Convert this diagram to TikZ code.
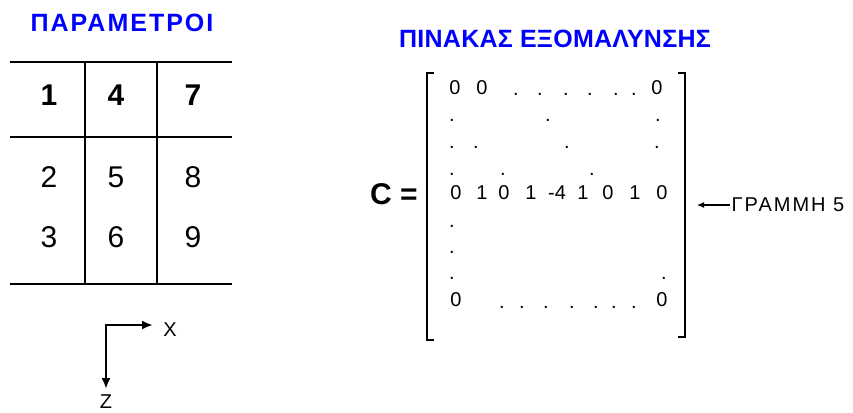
\documentclass[tikz,border=0pt]{standalone}
\usepackage{fontspec}
\setmainfont{Liberation Sans}
\usetikzlibrary{arrows.meta}
\definecolor{ttlBlue}{HTML}{0000FF}

\begin{document}
\begin{tikzpicture}[x=1pt,y=-1pt,
  ttl/.style={text=ttlBlue,inner sep=0pt,font=\fontsize{25}{28}\selectfont\bfseries},
  cell/.style={inner sep=0pt,font=\fontsize{30}{34}\selectfont},
  cellb/.style={inner sep=0pt,font=\fontsize{30}{34}\selectfont\bfseries},
  entry/.style={inner sep=0pt,font=\fontsize{20}{23}\selectfont},
  axlbl/.style={inner sep=0pt,font=\fontsize{20}{24}\selectfont},
  grid/.style={line width=2pt},
  brk/.style={line width=2.6pt},
  axis/.style={line width=2.6pt,line join=miter,{Latex[length=11pt,width=9pt]}-{Latex[length=11pt,width=9pt]}}]
\useasboundingbox (0,0) rectangle (853,412);
\node[ttl] (partitle) at (122,23) {\addfontfeature{LetterSpace=8}ΠΑΡΑΜΕΤΡΟΙ};
\draw[grid] (10,62) -- (232,62) (10,137) -- (232,137) (10,284) -- (232,284);
\draw[grid] (85,62) -- (85,284) (157,62) -- (157,284);
\foreach \n/\x in {1/49,4/116,7/193}
  \node[cellb] (c\n) at (\x,95) {\n};
\foreach \n/\x/\y in {2/49/177,5/116/177,8/193/177,3/49/237,6/116/237,9/193/237}
  \node[cell] (c\n) at (\x,\y) {\n};
\coordinate (orig) at (106,325);
\coordinate (xend) at (153,325);
\coordinate (zend) at (106,389);
\node[axlbl] (xlbl) at (170,330) {X};
\node[axlbl] (zlbl) at (106,402) {Z};
\draw[axis] (xend) -- (orig) -- (zend);
\node[ttl] (mattitle) at (555,39) {\addfontfeature{LetterSpace=1}ΠΙΝΑΚΑΣ ΕΞΟΜΑΛΥΝΣΗΣ};
\node[cellb] (ceq) at (394,194) {C =};
\draw[brk] (434,73) -- (427,73) -- (427,340) -- (434,340);
\draw[brk] (678,73) -- (685,73) -- (685,337) -- (678,337);
\node[entry] (ra1) at (455,88) {0};
\node[entry] (ra2) at (482,88) {0};
\node[entry] (ra3) at (657,88) {0};
\foreach \x [count=\i] in {516,540,566,590,616,634}
  \node[entry] (da\i) at (\x,94) {.};
\foreach \x/\y [count=\i] in {452/120,548/120,658/120,452/147,476/147,567/147,657/147,452/174,503/174,592/174,452/226,452/252,452/278,664/278}
  \node[entry] (dm\i) at (\x,\y) {.};
\foreach \v/\x [count=\i] in {0/456,1/482,0/504,1/531,-4/557,1/583,0/608,1/635,0/662}
  \node[entry] (rv\i) at (\x,193) {\v};
\node[entry] (rz1) at (456,300) {0};
\node[entry] (rz2) at (662,300) {0};
\foreach \x [count=\i] in {502,522,546,572,596,614,634}
  \node[entry] (dz\i) at (\x,307) {.};
\node[axlbl,inner sep=1pt] (row5lbl) at (788,205) {\addfontfeature{LetterSpace=10}ΓΡΑΜΜΗ 5};
\coordinate (row5tip) at (697,205);
\draw[line width=1.2pt,-{Latex[length=7pt,width=6pt]}] (row5lbl.west) -- (row5tip);
\end{tikzpicture}
\end{document}
